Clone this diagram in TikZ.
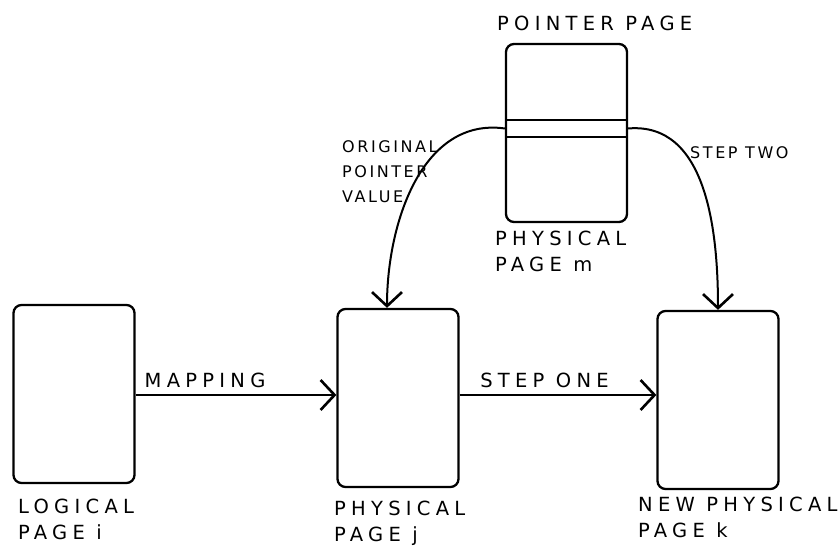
\documentclass[tikz,border=0pt]{standalone}
\usepackage{fontspec}
\setmainfont{DejaVu Sans}[LetterSpace=16]
\newfontfamily\widefont{DejaVu Sans}[LetterSpace=27]
\usetikzlibrary{arrows.meta}
\begin{document}
\begin{tikzpicture}[x=1pt,y=-1pt,
  page/.style={draw, line width=2.3pt, rounded corners=8pt,
    minimum width=121pt, minimum height=178pt, inner sep=0pt},
  slotbox/.style={draw, line width=2pt, minimum width=121pt,
    minimum height=17pt, inner sep=0pt},
  link/.style={line width=2pt,
    -{Straight Barb[length=14pt,width=30pt,line width=2.6pt]}},
  lbl/.style={font=\widefont\fontsize{19.5}{26}\selectfont, align=left,
    inner sep=0pt, anchor=north west},
  smalllbl/.style={lbl, font=\fontsize{16}{25}\selectfont}]
  \useasboundingbox (0,0) rectangle (839,556);

  % the four pages
  \node[page] (logical) at (74,394) {};
  \node[page] (phys) at (398,398) {};
  \node[page] (new) at (718,400) {};
  \node[page] (ptr) at (566.5,133) {};
  % pointer entry inside the pointer page
  \node[slotbox] (slot) at (566.5,128.5) {};

  % connectors
  \draw[link] (logical.east |- 0,395) -- (phys.west |- 0,395)
    node[lbl, pos=0.04, anchor=south west, yshift=6pt] {MAPPING};
  \draw[link] (phys.east |- 0,395) -- (new.west |- 0,395)
    node[lbl, pos=0.1, anchor=south west, yshift=6pt] {STEP ONE};
  \draw[link] (slot.west) to[out=172, in=90] ([xshift=-11pt]phys.north);
  \draw[link] (slot.east) to[out=5, in=90] (new.north);

  % labels
  \node[lbl, anchor=south west] (ptrlbl) at (497,31) {POINTER PAGE};
  \node[lbl] (ptrname) at (495,231) {PHYSICAL\\PAGE m};
  \node[smalllbl] (orig) at (342,140) {ORIGINAL\\POINTER\\VALUE};
  \node[smalllbl] (two) at (690,146) {STEP TWO};
  \node[lbl] (loglbl) at (18,499) {LOGICAL\\PAGE i};
  \node[lbl] (physlbl) at (334,501) {PHYSICAL\\PAGE j};
  \node[lbl] (newlbl) at (638,497) {NEW PHYSICAL\\PAGE k};
\end{tikzpicture}
\end{document}
